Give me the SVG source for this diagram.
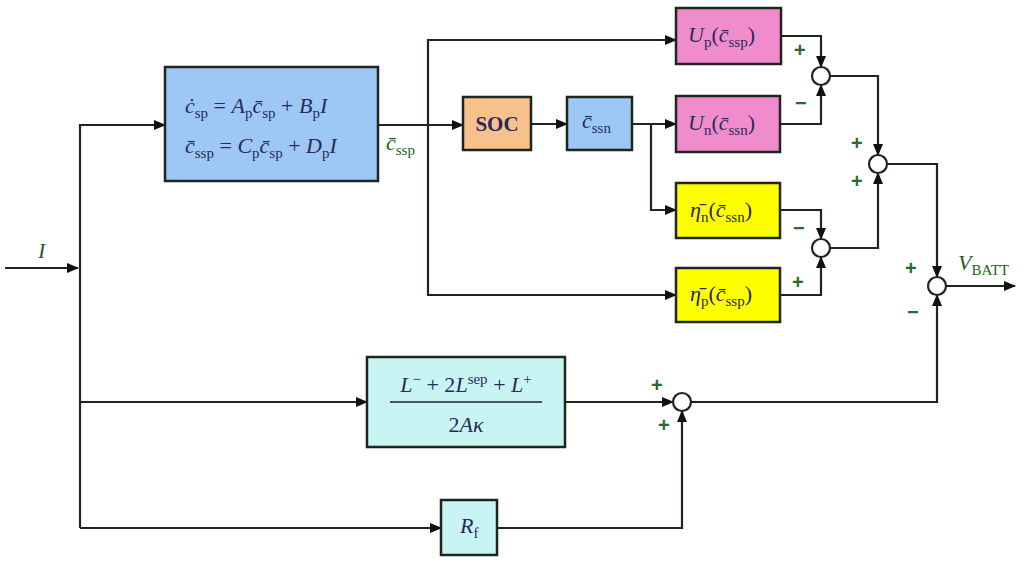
<svg xmlns="http://www.w3.org/2000/svg" width="1024" height="564" viewBox="0 0 1024 564">
<defs>
<marker id="ar" markerWidth="12" markerHeight="10" refX="11" refY="5" orient="auto" markerUnits="userSpaceOnUse"><path d="M0,0 L12,5 L0,10 z" fill="#111"/></marker>
<style>
.b{stroke:#1c261c;stroke-width:2.5}
.w{fill:none;stroke:#1c261c;stroke-width:2.2}
.s{fill:#fff;stroke:#1c261c;stroke-width:2.2}
.t{font-family:"Liberation Serif",serif;font-size:22px;font-style:italic;fill:#2a2a5a}
.u{font-style:normal;font-size:15px}
.g{font-family:"Liberation Sans",sans-serif;font-size:20px;font-weight:bold;fill:#2a6a2a}
.m{font-family:"Liberation Serif",serif;font-size:22px;font-style:italic;fill:#1f5f1f}
</style>
</defs>
<rect width="1024" height="564" fill="#fff"/>
<g id="connectors">
<path class="w" d="M5,268 H78" marker-end="url(#ar)"/>
<path class="w" d="M80,528 V125 H165" marker-end="url(#ar)"/>
<path class="w" d="M80,402 H367" marker-end="url(#ar)"/>
<path class="w" d="M80,528 H441" marker-end="url(#ar)"/>
<path class="w" d="M378,125 H463" marker-end="url(#ar)"/>
<path class="w" d="M428,125 V40 H676" marker-end="url(#ar)"/>
<path class="w" d="M428,125 V295 H676" marker-end="url(#ar)"/>
<path class="w" d="M531,124 H567" marker-end="url(#ar)"/>
<path class="w" d="M632,124 H676" marker-end="url(#ar)"/>
<path class="w" d="M651,124 V210 H676" marker-end="url(#ar)"/>
<path class="w" d="M781,36 H821 V67" marker-end="url(#ar)"/>
<path class="w" d="M780,124 H821 V85" marker-end="url(#ar)"/>
<path class="w" d="M830,76 H878 V155" marker-end="url(#ar)"/>
<path class="w" d="M780,210 H821 V239" marker-end="url(#ar)"/>
<path class="w" d="M780,295 H821 V257" marker-end="url(#ar)"/>
<path class="w" d="M830,248 H878 V173" marker-end="url(#ar)"/>
<path class="w" d="M887,164 H937 V277" marker-end="url(#ar)"/>
<path class="w" d="M946,286 H1015" marker-end="url(#ar)"/>
<path class="w" d="M691,402 H937 V295" marker-end="url(#ar)"/>
<path class="w" d="M565,402 H673" marker-end="url(#ar)"/>
<path class="w" d="M497,528 H682 V411" marker-end="url(#ar)"/>
</g>
<g id="main"><rect class="b" x="165" y="67" width="213" height="114" fill="#9dc8f5"/>
<text class="t" x="185" y="113">ċ<tspan class="u" dy="5">sp</tspan><tspan dy="-5" style="font-style:normal"> = </tspan>A<tspan class="u" dy="5">p</tspan><tspan dy="-5">c̄</tspan><tspan class="u" dy="5">sp</tspan><tspan dy="-5" style="font-style:normal"> + </tspan>B<tspan class="u" dy="5">p</tspan><tspan dy="-5">I</tspan></text>
<text class="t" x="185" y="153">c̄<tspan class="u" dy="5">ssp</tspan><tspan dy="-5" style="font-style:normal"> = </tspan>C<tspan class="u" dy="5">p</tspan><tspan dy="-5">c̄</tspan><tspan class="u" dy="5">sp</tspan><tspan dy="-5" style="font-style:normal"> + </tspan>D<tspan class="u" dy="5">p</tspan><tspan dy="-5">I</tspan></text></g>
<text class="m" x="386" y="150">c̄<tspan class="u" dy="5">ssp</tspan></text>
<text class="m" x="38" y="258">I</text>
<g id="soc"><rect class="b" x="463" y="97" width="68" height="53" fill="#f8c08a"/><text x="497" y="131" text-anchor="middle" font-family="Liberation Serif,serif" font-weight="bold" font-size="21" fill="#2a2a5a">SOC</text></g>
<g id="cssn"><rect class="b" x="567" y="97" width="65" height="53" fill="#9dc8f5"/><text class="t" x="582" y="128">c̄<tspan class="u" dy="5">ssn</tspan></text></g>
<g id="up"><rect class="b" x="676" y="8" width="105" height="56" fill="#f08ccc"/><text class="t" x="688" y="42">U<tspan class="u" dy="5">p</tspan><tspan dy="-5" style="font-style:normal">(</tspan>c̄<tspan class="u" dy="5">ssp</tspan><tspan dy="-5" style="font-style:normal">)</tspan></text></g>
<g id="un"><rect class="b" x="676" y="96" width="104" height="56" fill="#f08ccc"/><text class="t" x="688" y="130">U<tspan class="u" dy="5">n</tspan><tspan dy="-5" style="font-style:normal">(</tspan>c̄<tspan class="u" dy="5">ssn</tspan><tspan dy="-5" style="font-style:normal">)</tspan></text></g>
<g id="etan"><rect class="b" x="676" y="183" width="104" height="55" fill="#ffff00"/><text class="t" x="690" y="217">η̄<tspan class="u" dy="5">n</tspan><tspan dy="-5" style="font-style:normal">(</tspan>c̄<tspan class="u" dy="5">ssn</tspan><tspan dy="-5" style="font-style:normal">)</tspan></text></g>
<g id="etap"><rect class="b" x="676" y="268" width="104" height="54" fill="#ffff00"/><text class="t" x="690" y="301">η̄<tspan class="u" dy="5">p</tspan><tspan dy="-5" style="font-style:normal">(</tspan>c̄<tspan class="u" dy="5">ssp</tspan><tspan dy="-5" style="font-style:normal">)</tspan></text></g>
<g id="frac"><rect class="b" x="367" y="357" width="198" height="90" fill="#c8f4f4"/>
<text class="t" x="466" y="392" text-anchor="middle">L<tspan class="u" dy="-8">−</tspan><tspan dy="8" style="font-style:normal"> + 2</tspan>L<tspan class="u" dy="-8">sep</tspan><tspan dy="8" style="font-style:normal"> + </tspan>L<tspan class="u" dy="-8">+</tspan></text>
<line x1="390" y1="402" x2="542" y2="402" stroke="#222" stroke-width="1.5"/>
<text class="t" x="466" y="432" text-anchor="middle"><tspan style="font-style:normal">2</tspan>Aκ</text></g>
<g id="rf"><rect class="b" x="441" y="500" width="56" height="55" fill="#c8f4f4"/><text class="t" x="460" y="533">R<tspan class="u" dy="5">f</tspan></text></g>
<g id="sums">
<circle class="s" cx="821" cy="76" r="9"/><circle class="s" cx="878" cy="164" r="9"/><circle class="s" cx="821" cy="248" r="9"/><circle class="s" cx="937" cy="286" r="9"/><circle class="s" cx="682" cy="402" r="9"/>
</g>
<g id="signs" class="g">
<text x="794" y="57">+</text><text x="795" y="110">−</text><text x="851" y="150">+</text><text x="851" y="188">+</text><text x="793" y="235">−</text><text x="792" y="289">+</text><text x="905" y="275">+</text><text x="907" y="319">−</text><text x="651" y="392">+</text><text x="658" y="432">+</text>
</g>
<text class="m" x="958" y="270">V<tspan class="u" dy="5">BATT</tspan></text>
</svg>
